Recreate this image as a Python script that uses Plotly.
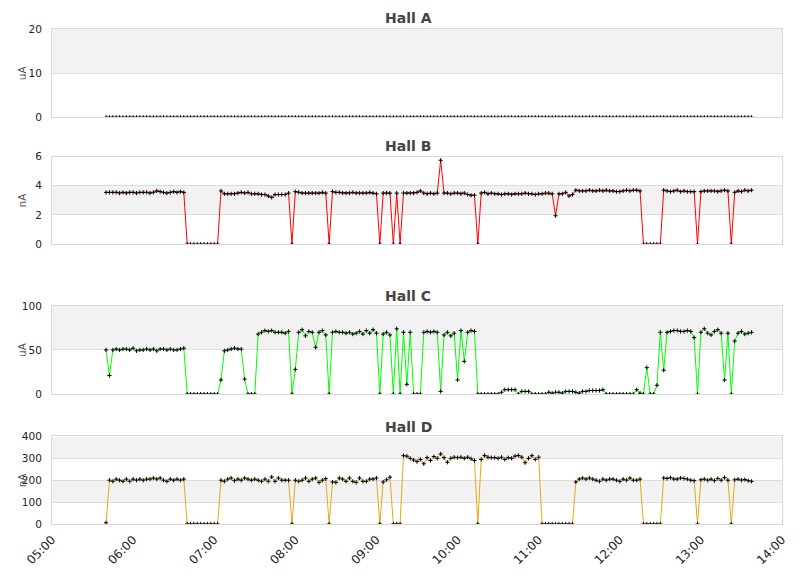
import pandas as pd
import plotly.graph_objects as go
from plotly.subplots import make_subplots

# sample times, one reading every 2.5 minutes
times = pd.date_range("2024-01-01 05:40", periods=192, freq="150s")

hall_names = ["Hall A", "Hall B", "Hall C", "Hall D"]
hall_units = ["uA", "nA", "uA", "nA"]
hall_ticks = [[0, 10, 20], [0, 2, 4, 6], [0, 50, 100], [0, 100, 200, 300, 400]]
x_ticks = ["05:00", "06:00", "07:00", "08:00", "09:00", "10:00", "11:00", "12:00", "13:00", "14:00"]

hall_a = [0] * 192

hall_b = (
    [3.55, 3.55, 3.55, 3.55, 3.5, 3.55, 3.5, 3.55, 3.55, 3.5, 3.55, 3.55,
     3.55, 3.5, 3.55, 3.65, 3.6, 3.55, 3.5, 3.55, 3.6, 3.55, 3.6, 3.55]
    + [0, 0, 0, 0, 0, 0, 0, 0, 0, 0]
    + [3.65]
    + [3.45, 3.45, 3.45, 3.45, 3.5, 3.55, 3.5, 3.55, 3.45, 3.45, 3.45, 3.4,
       3.4, 3.3, 3.2, 3.4, 3.4, 3.4, 3.4, 3.5]
    + [0]
    + [3.6, 3.55, 3.5, 3.5, 3.5, 3.5, 3.5, 3.5, 3.55, 3.5]
    + [0]
    + [3.6, 3.55, 3.55, 3.5, 3.5, 3.5, 3.55, 3.5, 3.5, 3.5, 3.5, 3.55, 3.5, 3.45]
    + [0, 3.5, 3.5, 3.5, 0, 3.5, 0]
    + [3.5, 3.5, 3.5, 3.5, 3.55, 3.65, 3.5, 3.45, 3.5, 3.45, 3.5]
    + [5.75]
    + [3.5, 3.5, 3.45, 3.5, 3.5, 3.45, 3.5, 3.4, 3.35, 3.35]
    + [0]
    + [3.5, 3.55, 3.45, 3.5, 3.45, 3.45, 3.4, 3.45, 3.45, 3.4, 3.45,
       3.45, 3.45, 3.5, 3.45, 3.45, 3.4, 3.45, 3.45, 3.5, 3.5, 3.45]
    + [1.95]
    + [3.45, 3.45, 3.55, 3.3, 3.4]
    + [3.7, 3.65, 3.65, 3.65, 3.7, 3.65, 3.65, 3.7, 3.65, 3.7, 3.65, 3.65,
       3.6, 3.6, 3.65, 3.7, 3.65, 3.7, 3.7, 3.65]
    + [0, 0, 0, 0, 0, 0]
    + [3.7, 3.65, 3.6, 3.65, 3.7, 3.6, 3.65, 3.6, 3.6, 3.6]
    + [0]
    + [3.6, 3.65, 3.65, 3.65, 3.65, 3.6, 3.65, 3.7, 3.65]
    + [0]
    + [3.55, 3.65, 3.6, 3.7, 3.65, 3.7]
)

hall_c = (
    [50, 21]
    + [50, 51, 50, 51, 51, 50, 52, 49, 50, 50, 51, 50, 51, 49, 51, 51, 50,
       51, 50, 50, 51, 52]
    + [0, 0, 0, 0, 0, 0, 0, 0, 0, 0]
    + [16, 49, 50, 51, 52, 51, 51, 17, 0, 0, 0, 68]
    + [70, 72, 71, 72, 70, 70, 70, 69, 71]
    + [0, 28, 70, 73, 66, 71, 70, 53, 70, 72, 67, 0]
    + [70, 71, 70, 70, 69, 70, 68, 69, 71, 68, 72, 69, 73, 69]
    + [0, 68, 70, 67, 0, 74, 0]
    + [70, 11, 70, 0, 0, 0, 70, 71, 70, 71, 70]
    + [3, 67, 70, 66, 69, 16, 72, 37, 70, 72, 71]
    + [0, 0, 0, 0, 0, 0, 0]
    + [2, 5, 5, 5, 5, 0, 3, 3, 3]
    + [0, 0, 0, 0, 0]
    + [2, 1, 2, 2, 1, 3, 3, 3, 2, 1, 3, 3, 4, 4, 4, 4, 5]
    + [0, 0, 0, 0, 0, 0, 0, 0, 0]
    + [5, 1, 0, 30, 0, 0, 10, 70, 27, 70]
    + [71, 72, 72, 71, 71, 72, 71]
    + [64, 0, 70, 74]
    + [69, 67, 71, 73]
    + [69, 16, 69, 0, 60, 69, 71, 68, 69, 70]
)

hall_d = (
    [5]
    + [200, 195, 205, 200, 195, 205, 195, 205, 200, 205, 200, 205, 205, 210,
       205, 210, 200, 195, 205, 200, 205, 200, 205]
    + [0, 0, 0, 0, 0, 0, 0, 0, 0, 0]
    + [200, 195, 205, 210, 198, 205, 200, 210, 205, 200, 205, 200, 195, 205,
       195, 215, 195, 210, 200, 200, 200]
    + [0]
    + [200, 195, 200, 210, 195, 205, 210, 190, 200, 207]
    + [0]
    + [192, 190, 210, 205, 195, 210, 195, 190, 210, 195, 195, 205, 205, 210]
    + [0, 192, 202, 214, 0, 0, 0]
    + [312, 310, 300, 292, 285, 295, 275, 303, 290, 308, 300, 320, 303, 282,
       300, 305, 303, 305, 300, 305, 298, 290]
    + [0]
    + [295, 313, 305, 303, 303, 300, 305, 295, 303, 300, 310, 313, 305, 280,
       300, 312, 295, 305]
    + [0, 0, 0, 0, 0, 0, 0, 0, 0, 0]
    + [192, 205, 210, 205, 210, 205, 200, 195, 205, 200, 205, 205, 200, 195,
       205, 200, 210, 200, 200, 205]
    + [0, 0, 0, 0, 0, 0]
    + [210, 208, 212, 205, 205, 210, 208, 205, 200, 198]
    + [0]
    + [202, 205, 200, 205, 198, 208, 200, 212, 200]
    + [0]
    + [202, 205, 200, 203, 198, 195]
)

series = [hall_a, hall_b, hall_c, hall_d]
colors = ["#000000", "#ff0000", "#00ff00", "#e6a817"]
for s in series:
    assert len(s) == len(times), len(s)

# vertical placement of the four panels (paper fractions)
domains = [(0.8217, 1.0), (0.5653, 0.7422), (0.2625, 0.4407), (0.0, 0.1769)]
title_y = [1.022, 0.7638, 0.4609, 0.1964]

fig = make_subplots(rows=4, cols=1, shared_xaxes=True)

for i, s in enumerate(series):
    fig.add_trace(go.Scatter(
        x=times, y=s, mode="lines+markers", name=hall_names[i],
        line=dict(color=colors[i], width=1),
        marker=dict(symbol="cross-thin", size=3, color="black",
                    line=dict(width=1, color="black")),
        showlegend=False,
    ), row=i + 1, col=1)

tick_vals = pd.to_datetime(["2024-01-01 " + t for t in x_ticks])
font = "DejaVu Sans"

shapes = []
annotations = []
for i in range(4):
    n = "" if i == 0 else str(i + 1)
    ticks = hall_ticks[i]
    fig.update_layout({
        "yaxis" + n: dict(
            domain=list(domains[i]), range=[ticks[0], ticks[-1]], tickvals=ticks,
            showgrid=True, gridcolor="#dcdcdc", gridwidth=1, zeroline=False,
            showline=True, mirror=True, linecolor="#d9d9d9", linewidth=1,
            ticks="", ticklabelstandoff=7, layer="above traces",
            tickfont=dict(family=font, size=10.5, color="#222"),
        ),
        "xaxis" + n: dict(
            range=[tick_vals[0], tick_vals[-1]], tickvals=tick_vals, ticktext=x_ticks,
            showgrid=False, zeroline=False, showline=True, mirror=True,
            linecolor="#d9d9d9", linewidth=1, ticks="", layer="above traces",
            showticklabels=(i == 3), tickangle=-45, ticklabelstandoff=3,
            tickfont=dict(family=font, size=12, color="#222"),
        ),
    })
    for k in range(1, len(ticks) - 1, 2):
        shapes.append(dict(
            type="rect", xref="x" + n + " domain", yref="y" + n,
            x0=0, x1=1, y0=ticks[k], y1=ticks[k + 1],
            fillcolor="#f2f2f2", line=dict(width=0), layer="below",
        ))
    annotations.append(dict(
        text="<b>" + hall_names[i] + "</b>", xref="paper", yref="paper",
        x=0.4877, y=title_y[i], xanchor="center", yanchor="middle",
        showarrow=False, font=dict(family=font, size=14, color="#444"),
    ))
    annotations.append(dict(
        text=hall_units[i], xref="paper", yref="paper", textangle=-90,
        x=-0.041, y=sum(domains[i]) / 2, xanchor="center", yanchor="middle",
        showarrow=False, font=dict(family=font, size=10.5, color="#555"),
    ))

# the page body adds an 8px offset, so the figure is 8px smaller on each side
fig.update_layout(
    width=803, height=570,
    margin=dict(l=44, r=29, t=21, b=54),
    plot_bgcolor="white", paper_bgcolor="white",
    shapes=shapes, annotations=annotations,
    font=dict(family=font),
)

fig.write_html("out.html")
